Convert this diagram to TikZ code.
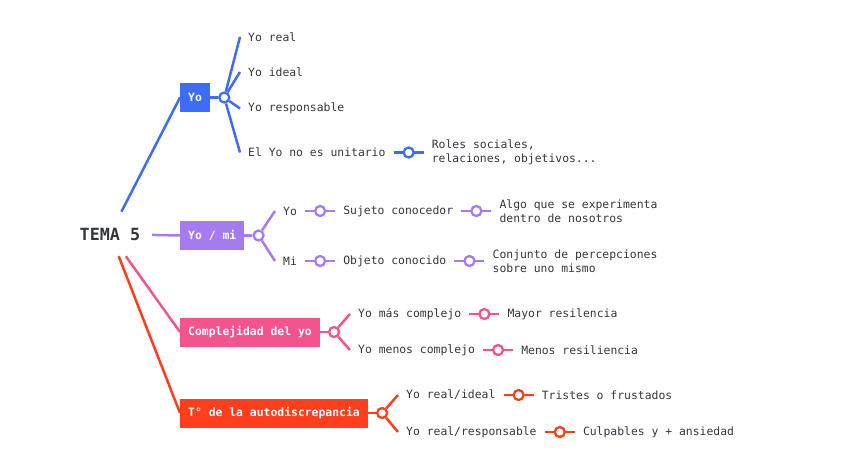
\documentclass[tikz,border=0pt]{standalone}
\usepackage{fontspec}
\setmonofont{DejaVu Sans Mono}
\usepackage{xcolor}
\usepackage{tikz}
\usetikzlibrary{positioning}

\definecolor{ink}{HTML}{33373D}
\definecolor{yoblue}{HTML}{3D6DF5}
\definecolor{mipurple}{HTML}{A57BEF}
\definecolor{cxpink}{HTML}{F4548C}
\definecolor{adred}{HTML}{FF3F1C}

\begin{document}
\begin{tikzpicture}[
    x=1pt, y=-1pt,
    every node/.style={font=\ttfamily\fontsize{11.4}{14}\selectfont, text=ink},
    branch/.style={draw=#1, line width=2.5pt},
    topic/.style={fill=#1, text=white, font=\ttfamily\bfseries\fontsize{11.4}{14}\selectfont,
                  inner xsep=8pt, minimum height=29pt, anchor=west},
    dot/.style={circle, draw=#1, fill=white, line width=2.3pt, minimum size=10pt, inner sep=0pt},
    leaf/.style={inner xsep=8pt, inner ysep=1pt, anchor=west, align=left}
]
    \useasboundingbox (0,0) rectangle (848,471);

    \node[font=\ttfamily\bfseries\fontsize{16.8}{18}\selectfont, inner sep=0pt,
          minimum width=84pt, minimum height=44pt] (tema) at (110,234) {TEMA 5};

    % Yo
    \node[topic=yoblue] (yo) at (180,97.5) {Yo};
    \draw[branch=yoblue] (tema) -- (yo.west);
    \node[dot=yoblue, right=8pt of yo] (yoD) {};
    \draw[branch=yoblue] (yo) -- (yoD);
    \node[leaf] (yreal) at (240,37) {Yo real};
    \node[leaf] (yideal) at (240,72) {Yo ideal};
    \node[leaf] (yresp) at (240,108.5) {Yo responsable};
    \node[leaf] (yunit) at (240,152.5) {El Yo no es unitario};
    \node[leaf, right=30pt of yunit] (roles) {Roles sociales,\\relaciones, objetivos...};
    \draw[branch=yoblue] (yoD) -- (yreal.west);
    \draw[branch=yoblue] (yoD) -- (yideal.west);
    \draw[branch=yoblue] (yoD) -- (yresp.west);
    \draw[branch=yoblue] (yoD) -- (yunit.west);
    \draw[branch=yoblue] (yunit) -- (roles) node[dot=yoblue, midway] {};

    % Yo / mi
    \node[topic=mipurple] (yomi) at (180,235.5) {Yo / mi};
    \draw[branch=mipurple] (tema) -- (yomi.west);
    \node[dot=mipurple, right=8pt of yomi] (yomiD) {};
    \draw[branch=mipurple] (yomi) -- (yomiD);
    \node[leaf] (myo) at (275,211) {Yo};
    \node[leaf] (mmi) at (275,261) {Mi};
    \node[leaf, right=30pt of myo] (suj) {Sujeto conocedor};
    \node[leaf, right=30pt of suj] (algo) {Algo que se experimenta\\dentro de nosotros};
    \node[leaf, right=30pt of mmi] (obj) {Objeto conocido};
    \node[leaf, right=30pt of obj] (conj) {Conjunto de percepciones\\sobre uno mismo};
    \draw[branch=mipurple] (yomiD) -- (myo.west);
    \draw[branch=mipurple] (yomiD) -- (mmi.west);
    \draw[branch=mipurple] (myo) -- (suj) node[dot=mipurple, midway] {};
    \draw[branch=mipurple] (suj) -- (algo) node[dot=mipurple, midway] {};
    \draw[branch=mipurple] (mmi) -- (obj) node[dot=mipurple, midway] {};
    \draw[branch=mipurple] (obj) -- (conj) node[dot=mipurple, midway] {};

    % Complejidad del yo
    \node[topic=cxpink] (compl) at (180,332) {Complejidad del yo};
    \draw[branch=cxpink] (tema) -- (compl.west);
    \node[dot=cxpink, right=8pt of compl] (complD) {};
    \draw[branch=cxpink] (compl) -- (complD);
    \node[leaf] (cmas) at (350,314) {Yo más complejo};
    \node[leaf] (cmenos) at (350,350) {Yo menos complejo};
    \node[leaf, right=30pt of cmas] (mayor) {Mayor resilencia};
    \node[leaf, right=30pt of cmenos] (menos) {Menos resiliencia};
    \draw[branch=cxpink] (complD) -- (cmas.west);
    \draw[branch=cxpink] (complD) -- (cmenos.west);
    \draw[branch=cxpink] (cmas) -- (mayor) node[dot=cxpink, midway] {};
    \draw[branch=cxpink] (cmenos) -- (menos) node[dot=cxpink, midway] {};

    % Autodiscrepancia
    \node[topic=adred] (autod) at (180,413) {T° de la autodiscrepancia};
    \draw[branch=adred] (tema) -- (autod.west);
    \node[dot=adred, right=8pt of autod] (autodD) {};
    \draw[branch=adred] (autod) -- (autodD);
    \node[leaf] (aideal) at (398,395) {Yo real/ideal};
    \node[leaf] (aresp) at (398,432) {Yo real/responsable};
    \node[leaf, right=30pt of aideal] (trist) {Tristes o frustados};
    \node[leaf, right=30pt of aresp] (culp) {Culpables y + ansiedad};
    \draw[branch=adred] (autodD) -- (aideal.west);
    \draw[branch=adred] (autodD) -- (aresp.west);
    \draw[branch=adred] (aideal) -- (trist) node[dot=adred, midway] {};
    \draw[branch=adred] (aresp) -- (culp) node[dot=adred, midway] {};
\end{tikzpicture}
\end{document}
